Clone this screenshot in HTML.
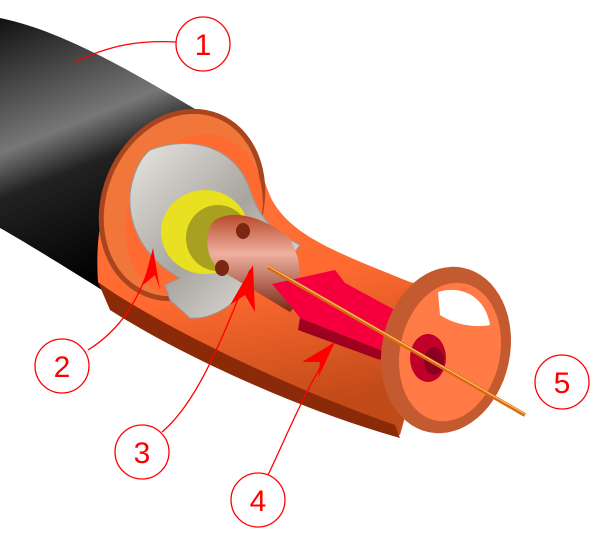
<!DOCTYPE html>
<html><head><style>html,body{margin:0;padding:0;background:#fff}svg{display:block}</style></head><body>
<svg width="600" height="545" viewBox="0 0 600 545" xmlns="http://www.w3.org/2000/svg">
<defs>
<linearGradient id="blk" x1="0" y1="0" x2="0.3" y2="1">
<stop offset="0" stop-color="#111"/><stop offset="0.45" stop-color="#777"/><stop offset="0.6" stop-color="#222"/><stop offset="1" stop-color="#000"/></linearGradient>
<linearGradient id="org" x1="0" y1="0" x2="0.2" y2="1">
<stop offset="0" stop-color="#ff7a40"/><stop offset="0.6" stop-color="#ff6a30"/><stop offset="1" stop-color="#c04a18"/></linearGradient>
<linearGradient id="cop" x1="0" y1="0" x2="0" y2="1">
<stop offset="0" stop-color="#b84a28"/><stop offset="0.4" stop-color="#f0b0a0"/><stop offset="1" stop-color="#7a2810"/></linearGradient>
<linearGradient id="gry" x1="0" y1="0" x2="1" y2="1">
<stop offset="0" stop-color="#e8e6e2"/><stop offset="0.5" stop-color="#a8a49e"/><stop offset="1" stop-color="#f0eeec"/></linearGradient>
</defs>
<!-- black cable -->
<path d="M0,18 C60,30 130,70 205,115 L110,295 C70,270 30,245 0,228 Z" fill="url(#blk)"/>
<!-- sleeve body -->
<path d="M205,112 C250,118 258,170 272,200 C292,235 330,250 410,282 L440,290 L400,435 C330,410 250,370 170,330 C130,312 105,300 98,282 C92,200 125,112 205,112 Z" fill="url(#org)"/>
<path d="M98,282 C150,320 280,385 395,425 L400,438 C300,410 180,355 110,310 Z" fill="#8a2a08"/>
<!-- left rim -->
<ellipse cx="182" cy="205" rx="78" ry="96" transform="rotate(22 182 205)" fill="#f0763a" stroke="#a8441e" stroke-width="5"/>
<ellipse cx="194" cy="216" rx="66" ry="84" transform="rotate(22 194 216)" fill="#ff6a30"/>
<!-- grey disc -->
<path d="M150,150 C190,135 235,145 250,190 C258,215 270,230 300,245 L290,258 L262,265 C245,300 215,320 190,318 L170,300 L165,285 L180,278 C150,262 128,232 130,195 C132,175 140,158 150,150 Z" fill="url(#gry)" stroke="#999" stroke-width="1"/>
<!-- yellow ring -->
<ellipse cx="205" cy="232" rx="44" ry="42" fill="#e8e020"/>
<ellipse cx="218" cy="238" rx="32" ry="33" fill="#a8a020"/>
<!-- copper -->
<path d="M215,220 C235,208 265,218 290,238 L298,258 L303,298 L290,312 C262,295 240,282 220,270 C204,258 204,230 215,220 Z" fill="url(#cop)"/>
<ellipse cx="243" cy="231" rx="7" ry="8" fill="#7a2810"/>
<ellipse cx="222" cy="268" rx="7" ry="8" fill="#7a2810"/>
<!-- red dielectric -->
<path d="M272,284 L335,270 L345,283 L395,310 L385,352 L300,318 L290,305 Z" fill="#f5003c"/>
<path d="M300,318 L385,352 L380,360 L298,330 Z" fill="#a00020"/>
<!-- right ring -->
<ellipse cx="446" cy="350" rx="64" ry="84" transform="rotate(12 446 350)" fill="#c45a30"/>
<ellipse cx="450" cy="352" rx="50" ry="70" transform="rotate(12 450 352)" fill="#ff7a45"/>
<path d="M438,292 C460,285 485,295 490,325 C475,328 455,325 440,315 Z" fill="#fff"/>
<!-- red disc -->
<ellipse cx="428" cy="358" rx="18" ry="24" fill="#c0002a"/>
<ellipse cx="434" cy="361" rx="10" ry="14" fill="#8a0020"/>
<!-- wire -->
<line x1="268" y1="267" x2="525" y2="415" stroke="#d86a10" stroke-width="4"/>
<line x1="268" y1="266" x2="525" y2="414" stroke="#ffd080" stroke-width="1"/>
<!-- leaders -->
<g fill="none" stroke="#f00" stroke-width="1.3">
<path d="M75,62 C110,45 140,40 176,42"/>
<path d="M88,350 C120,330 140,300 153,255"/>
<path d="M162,432 C200,400 225,330 250,270"/>
<path d="M268,475 C285,440 300,400 333,345"/>
</g>
<g fill="#f00">
<path d="M153,248 L143,285 L155,275 L160,290 Z"/>
<path d="M253,265 L230,305 L245,295 L255,312 Z"/>
<path d="M335,342 L302,362 L320,362 L318,378 Z"/>
</g>
<g fill="#fff" stroke="#f00" stroke-width="1.3">
<circle cx="203" cy="44" r="27"/><circle cx="62" cy="366" r="27"/><circle cx="142" cy="452" r="27"/><circle cx="258" cy="500" r="27"/><circle cx="562" cy="382" r="27"/>
</g>
<g font-family="Liberation Sans, sans-serif" font-size="30" fill="#f00" text-anchor="middle">
<text x="203" y="55">1</text><text x="62" y="377">2</text><text x="142" y="463">3</text><text x="258" y="511">4</text><text x="562" y="393">5</text>
</g>
</svg>
</body></html>
